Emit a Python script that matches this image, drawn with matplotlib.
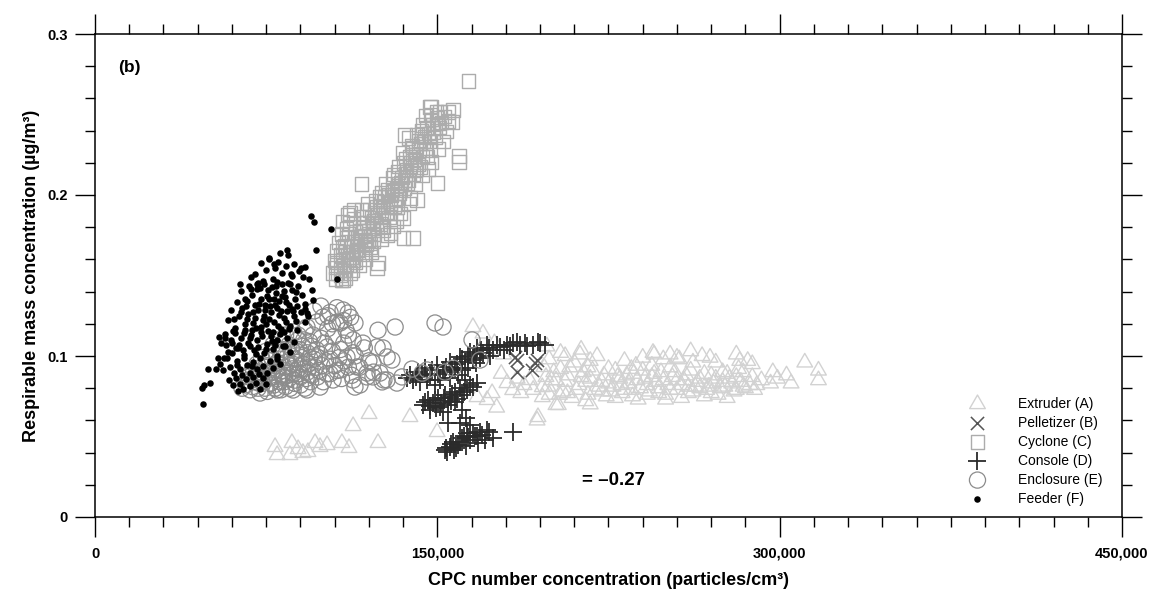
import numpy as np
import matplotlib
matplotlib.use("Agg")
import matplotlib.pyplot as plt
from matplotlib.ticker import MultipleLocator

plt.rcParams['font.family'] = ['Liberation Sans', 'DejaVu Sans']

# Measurements: (CPC count in thousands of particles/cm3, respirable mass in ug/m3)
extruder = [
    (78.9, .0435), (79.8, .0385), (86.3, .046), (85.4, .0385), (89.0, .0422), (91.1, .0398),
    (93.3, .0404), (96.4, .046), (98.6, .0435), (101.7, .0447), (108.2, .046), (111.3, .0429),
    (113.1, .0565), (120.1, .064), (124.0, .046), (138.0, .0621), (149.9, .0528), (194.1, .0621),
    (165.6, .118), (170.0, .114), (175.0, .108), (179.0, .101), (172.0, .103),
    (171.8, .0727), (167.4, .0745), (174.0, .077), (180.5, .0832), (183.0, .0789), (190.4, .0851),
    (196.0, .0807), (197.6, .087), (186.6, .077), (196.7, .0932), (188.0, .082), (178.0, .089),
    (185.0, .086), (192.0, .079), (199.0, .076), (176.0, .068), (193.7, .060), (198.0, .106),
    (204.0, .102), (202.0, .085), (196.0, .0745), (207.0, .077),
    (200, .085), (202, .0696), (204, .092), (205, .078), (207, .088), (209, .074), (210, .096),
    (212, .082), (214, .090), (215, .072), (217, .086), (219, .079), (220, .100), (222, .084),
    (224, .075), (225, .092), (227, .081), (229, .087), (231, .077), (232, .097), (234, .083),
    (236, .089), (238, .073), (239, .080), (241, .086), (243, .078), (245, .101), (246, .084),
    (248, .090), (250, .076), (251, .082), (253, .087), (255, .079), (256, .098), (258, .085),
    (260, .077), (261, .091), (263, .081), (265, .086), (266, .100), (268, .079), (270, .088),
    (271, .083), (273, .076), (275, .090), (276, .081), (278, .086), (280, .078), (282, .092),
    (283, .084), (285, .080), (286, .097), (288, .087), (290, .082), (203, .0696), (217, .070),
    (228, .074), (206, .100), (213, .104), (237, .094), (262, .096), (272, .096), (244, .094),
    (252, .093), (230, .086), (222, .078), (247, .080), (257, .074), (267, .075), (277, .074),
    (235, .079), (216, .093), (199, .098), (212.5, .101), (217, .097), (240, .099), (244.5, .102),
    (249, .098), (252, .101), (255, .099), (261, .103), (269.5, .099), (281, .101), (282.5, .097),
    (292, .085), (296, .083), (299, .086), (303, .088), (305, .083), (311, .096), (317, .091),
    (317, .085), (297, .090), (281, .079), (288, .095), (284, .081),
    (198.5, .081), (201, .090), (203.5, .076), (206, .084), (208, .093), (211, .079), (213, .087),
    (216, .076), (218, .091), (221, .081), (223, .088), (226, .078), (228, .091), (230.5, .082),
    (233, .088), (235.5, .075), (237.5, .085), (240, .091), (242, .082), (244, .087), (247, .077),
    (249, .085), (252, .079), (254, .090), (257, .082), (259, .088), (262, .078), (264, .084),
    (267, .089), (269, .081), (272, .086), (274, .080), (277, .089), (279, .083), (281, .087),
    (284, .090), (287, .082), (289, .079), (215, .084), (225, .083), (235, .092), (245, .089),
    (255, .085), (265, .080), (275, .084), (232, .079), (242, .076), (250, .073), (260, .081),
    (270, .077),
]

pelletizer = [
    (185.0, .0975), (185.0, .090), (191.5, .0913), (193.7, .0975), (192.8, .0957), (184.0, .0994),
]

cyclone = [
    (146.8, .2547), (151.2, .2516), (154.7, .2516), (156.9, .2528), (156.4, .2453), (143.7, .2435),
    (148.1, .2416), (135.8, .2373), (141.1, .2373), (138.9, .231), (146.8, .228), (145.5, .2236),
    (142.4, .2174), (138.0, .2236), (135.0, .2199), (132.8, .2143), (130.6, .2106), (135.8, .2093),
    (141.1, .1969), (138.0, .1981), (133.7, .2031), (128.0, .2031), (124.9, .1988), (129.3, .195),
    (132.3, .1925), (135.0, .1857), (128.0, .1888), (123.6, .1925), (120.5, .1907), (117.4, .1863),
    (113.1, .1907), (111.7, .1888), (111.7, .1826), (117.4, .1801), (121.8, .1826), (126.2, .1783),
    (128.0, .1752), (135.0, .1733), (139.3, .1733), (129.3, .1764), (116.1, .1739), (110.4, .1733),
    (108.7, .1677), (114.8, .1658), (120.5, .1677), (107.4, .1627), (113.1, .1596), (124.0, .1578),
    (123.6, .1547), (107.4, .1534), (104.3, .1516), (108.7, .1472), (111.7, .1516), (116.6, .2068),
    (149.9, .2075), (159.5, .2242), (159.5, .2205), (163.5, .2708),
    (115, .170), (118, .175), (120, .178), (122, .184), (124, .188), (126, .192), (128, .196),
    (130, .200), (132, .204), (134, .208), (136, .213), (138, .218), (140, .222), (142, .228),
    (144, .233), (146, .238), (148, .244), (150, .248), (113, .165), (111, .160), (109, .156),
    (116, .178), (119, .169), (125, .182), (127, .199), (131, .193), (133, .198), (137, .207),
    (139, .225), (141, .216), (143, .238), (145, .229), (147, .250), (149, .236), (152, .245),
    (122, .171), (117, .163), (110, .165), (114, .158),
    (106, .158), (107.5, .150), (108.5, .160), (109.5, .153), (110.5, .163), (111.5, .156),
    (112, .168), (112.5, .161), (113.5, .171), (114, .164), (115, .174), (115.5, .166),
    (116.5, .171), (117.5, .180), (118.5, .172), (119, .183), (120, .176), (121, .186),
    (121.5, .179), (122.5, .189), (123.5, .182), (124.5, .193), (125.5, .186), (126.5, .196),
    (127.5, .189), (128.5, .200), (129.5, .192), (130.5, .203), (131.5, .197), (132.5, .207),
    (133.5, .201), (134.5, .211), (135.5, .204), (136.5, .216), (137.5, .209), (138.5, .220),
    (139.5, .213), (140.5, .225), (141.5, .219), (142.5, .232), (143.5, .224), (144.5, .236),
    (145.5, .242), (146.5, .233), (147.5, .247), (148.5, .239), (149.5, .252), (151.0, .242),
    (153.0, .249), (155.0, .246), (118.0, .166), (114.0, .177), (120.5, .170), (126, .180),
    (108, .147), (105.5, .155),
    (104.8, .1595), (105.9, .1652), (106.8, .1703), (107.9, .1758), (109.2, .1687), (110.1, .1792),
    (105.2, .1478), (106.3, .1512), (109.9, .1484), (112.8, .1532), (115.9, .1561), (118.4, .1602),
    (121.2, .1645), (119.7, .1721), (121.9, .1757), (113.4, .1855), (111.2, .1762), (108.4, .1836),
    (110.8, .1879), (116.9, .1912), (119.3, .1948), (123.1, .1963), (125.7, .2015), (127.4, .2072),
    (131.0, .2128), (133.2, .2175), (136.3, .2226), (139.1, .2295), (141.6, .2338), (142.9, .2401),
    (137.2, .2354), (134.7, .2262), (140.2, .2068), (143.6, .2123), (146.0, .2162), (147.6, .2205),
    (150.5, .2286), (152.7, .2331), (154.1, .2392), (144.9, .2496), (147.2, .2552), (150.3, .2442),
    (125.4, .1722), (130.8, .1804), (133.9, .1883), (137.6, .1948), (128.8, .1861), (132.1, .1838),
]

console = [
    (136.7, .0863), (139.3, .0851), (141.5, .090), (144.6, .0925), (146.8, .0882), (149.9, .0944),
    (152.5, .0913), (155.6, .0963), (157.8, .0925), (159.9, .0994), (162.1, .0963), (164.3, .1025),
    (165.6, .0975), (167.4, .105), (170.0, .1019), (171.8, .1068), (174.4, .1037), (177.5, .1056),
    (180.5, .1068), (183.2, .108), (186.2, .1068), (188.4, .108), (191.9, .1068), (195.0, .108),
    (197.2, .1068), (168.7, .0988), (173.1, .100), (163.4, .0925), (159.1, .0882), (155.6, .0863),
    (153.4, .090), (145.5, .0851), (151.2, .0851), (149.0, .082), (142.4, .0839),
    (143.7, .0696), (145.9, .0727), (148.1, .0708), (150.3, .0739), (151.2, .0683), (153.4, .0758),
    (155.6, .0745), (157.8, .0776), (159.9, .0801), (160.8, .0758), (163.0, .0789), (164.3, .082),
    (167.4, .0832), (146.8, .0665), (152.5, .0652), (154.7, .0696), (157.8, .0714), (162.1, .0851),
    (160.8, .0665), (162.6, .0615), (159.9, .0584), (154.7, .0584), (164.3, .0571),
    (153.4, .0416), (155.6, .0435), (156.9, .0466), (159.1, .0447), (160.8, .0491), (163.0, .0522),
    (164.3, .0478), (166.5, .0503), (168.7, .0528), (171.8, .054), (174.4, .0491), (170.9, .0478),
    (167.8, .046), (162.6, .0441), (154.3, .0404), (183.2, .0528),
    (138, .088), (140.5, .087), (143.5, .089), (147.5, .091), (150.5, .089), (154, .093),
    (156.5, .091), (158.5, .095), (161, .098), (163.5, .100), (166, .101), (169, .104),
    (172.5, .105), (176, .107), (179, .104), (182, .106), (185, .109), (189.5, .106), (194, .109),
    (167, .0955), (161, .091),
    (144.5, .0715), (147, .069), (149, .0725), (151.5, .071), (153, .074), (156.5, .0765),
    (158.5, .0735), (161.5, .0775), (165.5, .0805), (149.5, .0675), (156, .072),
    (154, .0428), (156, .0452), (158, .043), (160, .0465), (161.5, .0505), (163.5, .0495),
    (165.5, .052), (167.5, .0505), (169.5, .051), (172.5, .0525), (157.5, .0415),
]

enclosure = [
    (66.0, .082), (67.5, .087), (68.0, .079), (69.5, .091), (70.0, .084), (71.0, .095), (71.5, .080),
    (72.5, .088), (73.0, .099), (73.5, .083), (74.5, .093), (75.0, .103), (75.5, .078), (76.0, .086),
    (76.5, .097), (77.5, .090), (78.0, .107), (78.5, .082), (79.0, .094), (79.5, .101), (80.0, .086),
    (80.5, .110), (81.0, .098), (81.5, .079), (82.0, .091), (82.5, .104), (83.0, .084), (83.5, .113),
    (84.0, .096), (84.5, .088), (85.0, .107), (85.5, .080), (86.0, .100), (86.5, .092), (87.0, .115),
    (87.5, .085), (88.0, .103), (88.5, .096), (89.0, .110), (89.5, .089), (90.0, .082), (90.5, .099),
    (91.0, .106), (91.5, .092), (92.0, .116), (92.5, .086), (93.0, .102), (93.5, .095), (94.0, .109),
    (95.0, .088), (95.5, .113), (96.0, .098), (97.0, .104), (98.0, .091), (99.0, .111), (100.0, .084),
    (101.0, .097), (102.0, .117), (103.0, .089), (104.0, .103), (105.0, .094), (106.0, .121),
    (107.0, .099), (108.0, .086), (109.0, .108), (110.0, .116), (111.0, .093), (112.0, .124),
    (113.0, .102),
    (106.0, .130), (108.7, .1286), (110.9, .1267), (113.9, .1205), (107.4, .1205), (97.3, .1211),
    (99.9, .1242), (92.9, .118), (89.0, .113), (113.1, .110), (117.4, .108), (123.6, .1056),
    (126.2, .105), (128.0, .0994), (121.8, .0957), (114.8, .0932), (110.4, .0994), (107.4, .0913),
    (104.3, .0851), (113.1, .0851), (116.1, .082), (121.8, .087), (124.9, .0894), (130.1, .0975),
    (132.3, .0832), (128.0, .0851), (138.9, .0919), (143.3, .0894), (101.7, .1056), (97.3, .0994),
    (94.2, .0932), (98.6, .0807), (92.9, .0789), (86.8, .0789), (79.8, .0789), (72.3, .077),
    (76.7, .0832), (82.4, .087), (64.4, .080), (124.0, .116), (131.5, .118), (149.0, .1205),
    (152.5, .118), (165.2, .110), (168.7, .0975), (145.5, .0913), (153.4, .090), (156.9, .0925),
    (119.2, .087), (125.8, .0839), (113.9, .0807), (119.2, .0894), (126.6, .0851), (134.5, .0870),
    (67.0, .085), (68.5, .090), (69.0, .081), (70.5, .087), (71.0, .092), (72.0, .083), (73.0, .090),
    (74.0, .086), (74.5, .080), (75.5, .094), (76.0, .089), (77.0, .083), (77.5, .099), (78.0, .087),
    (79.0, .080), (79.5, .091), (80.0, .096), (81.0, .084), (81.5, .102), (82.0, .088), (83.0, .093),
    (83.5, .081), (84.0, .099), (85.0, .086), (85.5, .094), (86.0, .105), (87.0, .089), (87.5, .083),
    (88.0, .098), (89.0, .092), (89.5, .104), (90.0, .087), (91.0, .095), (91.5, .110), (92.0, .080),
    (93.0, .090), (94.0, .099), (94.5, .084), (95.0, .106), (96.5, .093), (97.5, .087), (98.5, .101),
    (99.5, .094), (100.5, .108), (101.5, .089), (103.0, .098), (104.5, .112), (106.0, .091),
    (107.5, .104), (109.0, .097), (111.0, .113), (112.5, .088), (114.0, .100), (116.0, .093),
    (118.0, .105), (120.0, .097), (122.0, .090), (102.0, .125), (104.0, .120), (109.0, .122),
    (96.0, .128), (99.0, .131), (103.0, .127),
]

feeder = [
    # sparse tail and outliers
    (47.3, .070), (46.9, .080), (47.8, .082), (50.4, .083), (49.5, .092), (53.0, .092), (54.0, .099),
    (54.3, .112), (57.0, .111), (56.5, .099), (60.0, .108), (94.6, .187), (96.0, .183), (103.4, .179),
    (96.8, .166), (106.0, .148), (76.2, .161), (81.0, .164), (84.0, .166), (84.6, .163), (78.4, .157),
    (92.0, .155), (93.8, .148), (95.0, .141), (95.5, .135), (92.0, .129), (93.3, .125), (83.3, .106),
    (79.7, .100),
    # main body
    (70.3, .1512), (72.8, .1578), (74.9, .1534), (76.4, .1601), (78.7, .1549), (80.2, .1583),
    (81.9, .1517), (83.6, .1562), (85.8, .1508), (87.1, .1571), (89.4, .1526), (91.2, .1489),
    (73.6, .1466), (77.8, .1481), (84.7, .1452), (68.2, .1493), (71.5, .1455), (86.3, .1497),
    (79.9, .1462), (90.3, .1548),
    (62.4, .1338), (64.1, .1402), (65.8, .1357), (67.3, .1436), (68.7, .1381), (69.9, .1314),
    (71.2, .1419), (72.6, .1352), (73.9, .1447), (75.3, .1373), (76.8, .1311), (77.5, .1428),
    (79.1, .1389), (80.6, .1341), (81.8, .1446), (83.4, .1367), (84.9, .1319), (86.2, .1411),
    (87.7, .1352), (89.1, .1437), (90.6, .1376), (92.1, .1324), (66.2, .1309), (70.8, .1448),
    (74.4, .1318), (78.3, .1355), (82.7, .1403), (88.4, .1308), (63.7, .1446), (85.6, .1449),
    (58.3, .1221), (59.8, .1283), (61.4, .1176), (62.9, .1249), (64.3, .1297), (65.7, .1198),
    (67.1, .1262), (68.6, .1161), (70.1, .1237), (71.4, .1288), (72.9, .1183), (74.2, .1251),
    (75.8, .1154), (77.1, .1276), (78.6, .1209), (79.9, .1297), (81.3, .1166), (82.8, .1234),
    (84.1, .1281), (85.6, .1189), (87.2, .1248), (88.7, .1163), (90.1, .1272), (91.8, .1211),
    (93.0, .1264), (60.6, .1158), (66.4, .1231), (73.5, .1222), (80.7, .1253), (86.5, .1295),
    (55.4, .1078), (56.9, .1134), (58.1, .1027), (59.6, .1097), (61.2, .1141), (62.7, .1052),
    (64.0, .1113), (65.4, .1006), (66.9, .1081), (68.3, .1129), (69.7, .1035), (71.1, .1098),
    (72.6, .1147), (74.0, .1019), (75.5, .1076), (76.9, .1123), (78.2, .1044), (79.8, .1102),
    (81.1, .1138), (82.5, .1061), (84.0, .1109), (85.6, .1025), (87.3, .1084), (63.3, .1069),
    (70.4, .1012), (77.6, .1095), (60.1, .1018),
    (54.8, .0952), (56.3, .0914), (57.7, .0986), (59.2, .0931), (60.8, .0897), (62.1, .0968),
    (63.6, .0918), (65.1, .0989), (66.5, .0942), (67.9, .0893), (69.4, .0961), (70.8, .0917),
    (72.3, .0985), (73.7, .0936), (75.2, .0894), (76.6, .0972), (78.1, .0923), (79.7, .0984),
    (81.2, .0949), (64.2, .0881), (71.9, .0886),
    (58.6, .0852), (60.3, .0817), (61.9, .0866), (63.4, .0829), (64.8, .0794), (66.3, .0857),
    (67.8, .0812), (69.2, .0871), (70.7, .0834), (72.2, .0798), (73.6, .0861), (75.1, .0826),
    (62.6, .0784),
    (63.9, .1273), (66.8, .1344), (69.3, .1276), (71.8, .1325), (74.7, .1287), (76.2, .1352),
    (78.9, .1318), (81.6, .1279), (83.9, .1336), (86.8, .1281), (65.2, .1145), (67.7, .1109),
    (70.6, .1172), (73.2, .1124), (75.1, .1197), (77.9, .1152), (80.3, .1186), (82.9, .1147),
    (85.2, .1168), (61.8, .1047), (64.7, .1036), (68.1, .1064), (71.6, .1057), (74.8, .1043),
    (78.7, .1066), (72.1, .1423), (75.9, .1412), (79.4, .1436), (82.1, .1372), (68.4, .1418),
    (87.9, .1395), (65.9, .1163), (69.1, .1208), (76.3, .1232), (83.5, .1214), (88.2, .1218),
    (57.4, .1066), (60.9, .1231), (62.2, .0943), (68.9, .0938),
]

series_labels = ["Extruder (A)", "Pelletizer (B)", "Cyclone (C)", "Console (D)",
                 "Enclosure (E)", "Feeder (F)"]
x_ticks = [0, 150000, 300000, 450000]
x_tick_labels = ["0", "150,000", "300,000", "450,000"]
y_ticks = [0, 0.1, 0.2, 0.3]
y_tick_labels = ["0", "0.1", "0.2", "0.3"]
corr_text = "= \u20130.27"


def unpack(points):
    arr = np.array(points, dtype=float)
    return arr[:, 0] * 1000.0, arr[:, 1]


fig = plt.figure(figsize=(11.5, 5.95), dpi=100)
ax = fig.add_axes([95 / 1150, 1 - 517 / 595, 1027 / 1150, 483 / 595])

styles = [
    (extruder, dict(marker=(3, 0, 0), s=170, facecolors='none', edgecolors='#d2d2d2', linewidths=1.0)),
    (pelletizer, dict(marker='x', s=90, c='#555555', linewidths=1.1)),
    (cyclone, dict(marker='s', s=90, facecolors='none', edgecolors='#acacac', linewidths=1.0)),
    (console, dict(marker='+', s=160, c='#2b2b2b', linewidths=1.3)),
    (enclosure, dict(marker='o', s=135, facecolors='none', edgecolors='#8c8c8c', linewidths=0.9)),
    (feeder, dict(marker='o', s=22, c='black', linewidths=0)),
]
for (pts, st), lab in zip(styles, series_labels):
    xs, ys = unpack(pts)
    ax.scatter(xs, ys, label=lab, **st)

ax.set_xlim(0, 450000)
ax.set_ylim(0, 0.3)
ax.set_xticks(x_ticks, labels=x_tick_labels, fontweight='bold', fontsize=10.5)
ax.set_yticks(y_ticks, labels=y_tick_labels, fontweight='bold', fontsize=10.5)
ax.xaxis.set_minor_locator(MultipleLocator(15000))
ax.yaxis.set_minor_locator(MultipleLocator(0.02))
ax.tick_params(which='both', direction='out', top=True, right=True, width=1.0, color='black')
ax.tick_params(which='major', length=14.4)
ax.tick_params(which='minor', length=7.2)
ax.tick_params(axis='x', which='major', pad=7)
ax.tick_params(axis='y', which='major', pad=5)
for sp in ax.spines.values():
    sp.set_linewidth(1.1)

ax.set_xlabel("CPC number concentration (particles/cm\u00b3)", fontsize=13, fontweight='bold')
ax.set_ylabel("Respirable mass concentration (\u00b5g/m\u00b3)", fontsize=13, fontweight='bold')
ax.xaxis.set_label_coords(0.5, -0.113)
ax.yaxis.set_label_coords(-0.054, 0.5)

ax.text(10000, 0.2795, "(b)", fontsize=12.5, fontweight='bold', va='center', ha='left')
ax.text(213500, 0.0224, corr_text, fontsize=13.5, fontweight='bold', va='center', ha='left')

ax.legend(loc='upper left', bbox_to_anchor=(0.839, 0.249), frameon=False, borderpad=0,
          borderaxespad=0, handlelength=3.0, handletextpad=1.4, labelspacing=0.36,
          fontsize=10, scatterpoints=1)

fig.savefig("out.png", dpi=100)
